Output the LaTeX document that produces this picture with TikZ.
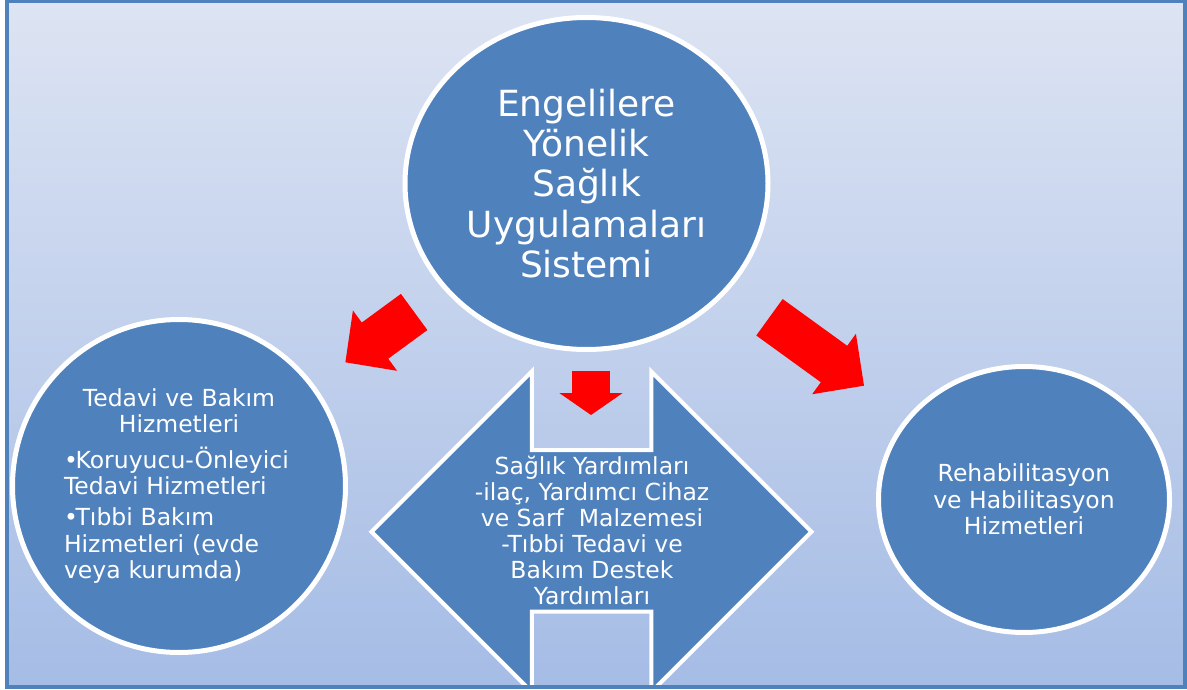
\documentclass[tikz,border=0pt]{standalone}
\usepackage{fontspec}
\setmainfont{DejaVu Sans}
\usepackage{tikz}
\usetikzlibrary{shapes.geometric,positioning}
\definecolor{steelblue}{RGB}{79,129,189}
\definecolor{bgtop}{RGB}{221,228,243}
\definecolor{bgbottom}{RGB}{165,188,229}
\tikzset{
  bubble/.style={ellipse, fill=steelblue, draw=white, line width=5, inner sep=0pt,
    text=white, align=center, font=\fontsize{23.5}{26.3}\selectfont},
  frame/.style={draw=steelblue, line width=4}
}

\begin{document}
\begin{tikzpicture}[x=1pt, y=-1pt]
  \useasboundingbox (0,0) rectangle (1187,690);
  \fill[white] (0,0) rectangle (1187,690);
  \shade[top color=bgtop, bottom color=bgbottom] (7,1.5) rectangle (1184.5,687);

  \node[bubble, minimum width=363, minimum height=332, font=\fontsize{36}{40.3}\selectfont] (system) at (586.5,183.5)
    {Engelilere\\Yönelik\\Sağlık\\Uygulamaları\\Sistemi};
  \node[bubble, minimum width=333, minimum height=333, text width=230, align=left] (care) at (179,486) {%
    {\centering Tedavi ve Bakım\\Hizmetleri\par}\vspace{9.5pt}
    \noindent\hangindent=11.6pt\hangafter=1\makebox[11.6pt][l]{•}Koruyucu-Önleyici\\Tedavi Hizmetleri\par\vspace{4.5pt}
    \noindent\hangindent=11.6pt\hangafter=1\makebox[11.6pt][l]{•}Tıbbi Bakım\\Hizmetleri (evde\\veya kurumda)\par};
  \node[bubble, minimum width=291, minimum height=266] (rehab) at (1024,499.5)
    {Rehabilitasyon\\ve Habilitasyon\\Hizmetleri};

  \begin{scope}
    \clip (9,3.5) rectangle (1182.5,685);
    \filldraw[fill=steelblue, draw=white, line width=4, miter limit=10]
      (371.5,531.7) -- (531.75,371.45) -- (531.75,450) -- (651.25,450) -- (651.25,371.45)
      -- (811.5,531.7) -- (651.25,691.95) -- (651.25,611.7) -- (531.75,611.7) -- (531.75,691.95) -- cycle;
  \end{scope}
  \node[text=white, align=center, inner sep=0pt, font=\fontsize{23.5}{26}\selectfont] (aid) at (592,530)
    {Sağlık Yardımları\\-ilaç, Yardımcı Cihaz\\ve Sarf\ \ Malzemesi\\-Tıbbi Tedavi ve\\Bakım Destek\\Yardımları};

  \foreach \tx/\ty/\ang/\len/\sh/\hh/\hl in {345.4/362.3/216.2/85.2/22.4/37.4/36.7,
      591/415/-90/43.8/18.8/31.7/22, 864/385.7/-35.9/116.7/22.5/37.3/37}
    \fill[red, shift={(\tx,\ty)}, rotate=\ang]
      (0,0) -- (-\hl,\hh) -- (-\hl,\sh) -- (-\len,\sh) -- (-\len,-\sh) -- (-\hl,-\sh) -- (-\hl,-\hh) -- cycle;

  \draw[frame] (7,1.5) rectangle (1184.5,687);
\end{tikzpicture}
\end{document}
